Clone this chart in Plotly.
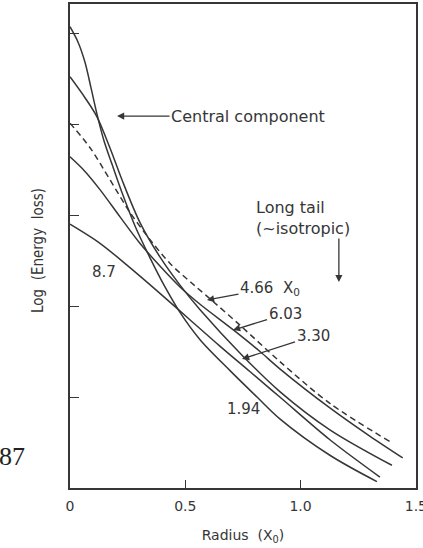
import plotly.graph_objects as go

# Radial energy-loss profiles at several shower depths (in radiation lengths X0)
depth_labels = ["1.94", "3.30", "4.66", "6.03", "8.7"]

r_194 = [0.0, 0.035, 0.065, 0.091, 0.117, 0.147, 0.182, 0.225, 0.282, 0.347, 0.412,
         0.477, 0.564, 0.694, 0.811, 0.91, 1.127, 1.331]
e_194 = [5.07, 4.90, 4.68, 4.40, 4.11, 3.82, 3.56, 3.25, 2.88, 2.53, 2.21,
         1.93, 1.63, 1.29, 1.00, 0.76, 0.36, 0.07]

r_330 = [0.0, 0.065, 0.117, 0.173, 0.225, 0.303, 0.39, 0.477, 0.564, 0.746, 0.91, 1.127, 1.396]
e_330 = [4.52, 4.29, 4.08, 3.74, 3.39, 2.92, 2.54, 2.23, 1.96, 1.46, 1.06, 0.64, 0.25]

r_466 = [0.0, 0.087, 0.173, 0.26, 0.347, 0.433, 0.529, 0.607, 0.737, 0.91, 1.127, 1.387]
e_466 = [4.01, 3.74, 3.39, 3.03, 2.73, 2.47, 2.25, 2.08, 1.79, 1.39, 0.93, 0.51]

r_603 = [0.0, 0.065, 0.13, 0.217, 0.303, 0.39, 0.477, 0.564, 0.707, 0.824, 0.91, 1.127, 1.30, 1.443]
e_603 = [3.64, 3.48, 3.28, 2.98, 2.69, 2.44, 2.21, 2.02, 1.74, 1.50, 1.31, 0.88, 0.57, 0.33]

r_870 = [0.0, 0.13, 0.247, 0.39, 0.52, 0.65, 0.78, 0.91, 1.127, 1.344]
e_870 = [2.90, 2.69, 2.45, 2.14, 1.85, 1.56, 1.28, 1.00, 0.53, 0.12]

x_tick_vals = [0, 0.5, 1.0, 1.5]
x_tick_text = ["0", "0.5", "1.0", "1.5"]
y_tick_vals = [1, 2, 3, 4, 5]

INK = "#363636"
FONT = "DejaVu Sans"

series = [
    (r_194, e_194, "solid"),
    (r_330, e_330, "solid"),
    (r_466, e_466, "6px,4px"),
    (r_603, e_603, "solid"),
    (r_870, e_870, "solid"),
]

fig = go.Figure()
for (r, e, dash), name in zip(series, depth_labels):
    fig.add_trace(go.Scatter(
        x=r, y=e, mode="lines", name=name,
        line=dict(color=INK, width=1.5, dash=dash, shape="spline", smoothing=0.9),
        showlegend=False, hoverinfo="skip",
    ))

arrow = dict(showarrow=True, arrowhead=2, arrowsize=1.1, arrowwidth=1.3,
             arrowcolor=INK, xref="x", yref="y", axref="pixel", ayref="pixel")
num = dict(family=FONT, size=15, color=INK)
words = dict(family=FONT, size=16, color=INK)

# paper-x for the texts left of the plot area (plot spans 70..416 px)
def px_to_paper_x(px):
    return (px - 70) / 346

annotations = [
    dict(x=0.204, y=4.088, ax=131, ay=0, text="Central component", font=words, **arrow),
    dict(x=0.80, y=2.97, text="Long tail<br>(~isotropic)", showarrow=False,
         xref="x", yref="y", xanchor="left", align="left", font=words),
    dict(x=1.166, y=2.264, ax=0, ay=-45, text="", **arrow),
    dict(x=0.594, y=2.066, ax=63, ay=-12, text="4.66  X<sub>0</sub>", font=num, **arrow),
    dict(x=0.707, y=1.736, ax=52, ay=-16, text="6.03", font=num, **arrow),
    dict(x=0.746, y=1.418, ax=71, ay=-23, text="3.30", font=num, **arrow),
    dict(x=0.147, y=2.374, text="8.7", showarrow=False, xref="x", yref="y", font=num),
    dict(x=0.754, y=0.868, text="1.94", showarrow=False, xref="x", yref="y", font=num),
    dict(x=px_to_paper_x(27), y=(488 - 251) / 484, xref="paper", yref="paper",
         text="Log  (Energy  loss)", textangle=-90, showarrow=False,
         font=dict(family="DejaVu Sans Condensed", size=15, color=INK)),
    dict(x=px_to_paper_x(27), y=0.031, xref="paper", yref="paper", text="87", showarrow=False,
         xanchor="right", font=dict(family="Liberation Serif", size=26, color="#222")),
]

fig.update_layout(
    width=423, height=548,
    margin=dict(l=70, r=7, t=4, b=60, autoexpand=False),
    paper_bgcolor="white", plot_bgcolor="white",
    annotations=annotations,
    xaxis=dict(
        range=[0, 1.5005], tickvals=x_tick_vals, ticktext=x_tick_text,
        ticks="inside", ticklen=8, tickwidth=1.3, tickcolor=INK,
        ticklabeloverflow="allow", ticklabelstandoff=4, automargin=False,
        showline=True, linecolor=INK, linewidth=1.5, mirror=True,
        showgrid=False, zeroline=False,
        tickfont=dict(family=FONT, size=14, color=INK),
        title=dict(text="Radius  (X<sub>0</sub>)", font=dict(family=FONT, size=14, color=INK),
                   standoff=18),
    ),
    yaxis=dict(
        range=[0, 5.32], tickvals=y_tick_vals, showticklabels=False, automargin=False,
        ticks="inside", ticklen=9, tickwidth=1.3, tickcolor=INK,
        showline=True, linecolor=INK, linewidth=1.5, mirror=True,
        showgrid=False, zeroline=False,
    ),
)

fig.write_html("out.html")
